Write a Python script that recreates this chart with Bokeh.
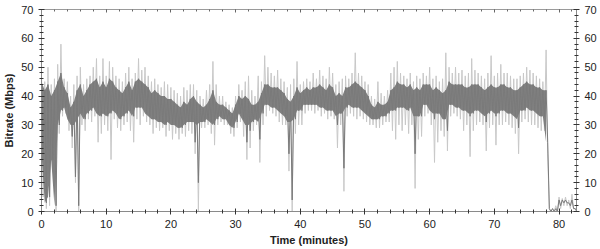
from bokeh.plotting import figure
from bokeh.models import Range1d, LinearAxis, SingleIntervalTicker
from bokeh.embed import file_html
from bokeh.resources import INLINE

# Time step of the sampled envelope (minutes)
step = 0.5

# Light-gray extremes (spikes) per half-minute: highs and lows (Mbps)
spike_hi = [
    48, 45, 50, 44, 46, 51, 58, 46, 45, 40,
    44, 47, 50, 44, 46, 47, 50, 53, 47, 53,
    47, 52, 50, 47, 46, 45, 48, 50, 46, 48,
    53, 49, 50, 47, 45, 46, 44, 43, 45, 44,
    43, 42, 41, 40, 43, 42, 44, 44, 42, 40,
    39, 42, 44, 52, 44, 40, 40, 38, 37, 36,
    40, 44, 42, 45, 47, 42, 40, 47, 45, 54,
    50, 48, 47, 49, 46, 45, 43, 44, 46, 52,
    44, 45, 46, 45, 48, 46, 49, 47, 46, 50,
    48, 44, 45, 46, 47, 46, 48, 55, 48, 47,
    45, 44, 40, 39, 45, 41, 40, 42, 48, 50,
    52, 48, 47, 46, 48, 45, 47, 46, 48, 47,
    50, 46, 47, 45, 46, 55, 50, 48, 50, 48,
    49, 47, 48, 53, 49, 48, 47, 46, 48, 54,
    47, 48, 51, 48, 48, 47, 46, 46, 47, 48,
    50, 49, 48, 47, 46, 45, 56, 1, 1, 2,
    5, 4.5, 5, 4, 6, 1,
]
spike_lo = [
    5, 1, 2, 16, 0, 27, 33, 34, 28, 22,
    10, 0, 30, 28, 32, 31, 33, 24, 27, 30,
    28, 18, 32, 29, 28, 30, 31, 28, 24, 32,
    30, 33, 31, 30, 27, 29, 28, 29, 26, 28,
    25, 27, 25, 27, 26, 28, 27, 20, 0, 29,
    29, 30, 27, 23, 30, 31, 30, 30, 27, 26,
    29, 31, 26, 18, 22, 28, 30, 17, 30, 33,
    35, 34, 33, 31, 30, 30, 14, 0, 27, 30,
    30, 34, 35, 35, 34, 35, 33, 34, 32, 33,
    32, 22, 30, 7, 33, 34, 33, 32, 33, 32,
    31, 30, 30, 29, 29, 30, 31, 31, 28, 25,
    30, 28, 30, 27, 30, 8, 25, 26, 33, 34,
    30, 17, 24, 28, 26, 21, 33, 34, 33, 32,
    28, 30, 19, 28, 30, 31, 30, 21, 29, 30,
    23, 30, 30, 31, 30, 29, 27, 20, 31, 32,
    31, 30, 30, 29, 28, 28, 20, 0, 0, 0,
    1, 2, 2, 1, 1, 0,
]

# Dark-gray line per half-minute: upper and lower swings (Mbps)
core_hi = [
    45, 42, 44, 40, 42, 45, 48, 43, 41, 36,
    38, 42, 44, 40, 42, 44, 45, 46, 43, 45,
    43, 46, 45, 43, 42, 41, 43, 45, 42, 45,
    46, 45, 44, 43, 41, 42, 41, 40, 40, 39,
    39, 38, 37, 36, 38, 37, 39, 40, 38, 37,
    36, 37, 39, 42, 38, 37, 37, 36, 35, 34,
    37, 40, 39, 40, 39, 37, 37, 38, 41, 44,
    44, 43, 43, 43, 42, 41, 39, 38, 40, 43,
    41, 42, 43, 42, 43, 43, 44, 43, 42, 44,
    43, 40, 41, 40, 43, 43, 44, 45, 44, 43,
    42, 40, 37, 36, 38, 37, 37, 38, 42, 43,
    45, 44, 44, 43, 44, 42, 43, 42, 44, 44,
    44, 42, 43, 42, 41, 42, 45, 44, 44, 44,
    44, 43, 43, 44, 44, 44, 43, 42, 43, 44,
    43, 43, 44, 44, 43, 43, 42, 42, 43, 44,
    45, 44, 44, 43, 43, 42, 42, 1, 1, 1,
    4, 4, 4, 3, 4, 1,
]
core_lo = [
    20, 3, 5, 18, 2, 30, 35, 36, 32, 26,
    12, 2, 34, 32, 34, 35, 36, 34, 33, 34,
    33, 34, 35, 34, 32, 33, 34, 35, 33, 36,
    36, 36, 34, 33, 32, 32, 31, 31, 30, 31,
    30, 30, 29, 29, 30, 31, 31, 24, 10, 31,
    31, 32, 31, 30, 32, 33, 32, 32, 30, 29,
    31, 34, 32, 24, 28, 31, 32, 25, 34, 37,
    37, 36, 36, 35, 34, 33, 20, 4, 32, 35,
    35, 37, 37, 37, 37, 37, 36, 36, 35, 35,
    35, 30, 34, 15, 36, 37, 36, 36, 36, 35,
    34, 33, 32, 32, 32, 33, 33, 34, 35, 35,
    36, 36, 36, 35, 36, 20, 33, 33, 37, 37,
    35, 32, 34, 34, 32, 28, 37, 37, 36, 36,
    35, 35, 33, 34, 35, 35, 34, 31, 34, 35,
    33, 34, 35, 35, 34, 34, 33, 29, 35, 35,
    36, 35, 35, 34, 33, 33, 24, 0, 0, 0,
    2, 3, 3, 2, 1, 0,
]
# Lower edge of the solid dense band (dips excluded), up to 78 min
band_lo = [
    20, 3, 5, 18, 2, 30, 35, 36, 32, 30,
    30, 32, 34, 32, 34, 35, 36, 34, 33, 34,
    33, 34, 35, 34, 32, 33, 34, 35, 33, 36,
    36, 36, 34, 33, 32, 32, 31, 31, 30, 31,
    30, 30, 29, 29, 30, 31, 31, 31, 30, 31,
    31, 32, 31, 30, 32, 33, 32, 32, 30, 29,
    31, 34, 32, 30, 30, 31, 32, 31, 34, 37,
    37, 36, 36, 35, 34, 33, 31, 31, 32, 35,
    35, 37, 37, 37, 37, 37, 36, 36, 35, 35,
    35, 33, 34, 34, 36, 37, 36, 36, 36, 35,
    34, 33, 32, 32, 32, 33, 33, 34, 35, 35,
    36, 36, 36, 35, 36, 33, 33, 33, 37, 37,
    35, 34, 34, 34, 32, 32, 37, 37, 36, 36,
    35, 35, 34, 34, 35, 35, 34, 33, 34, 35,
    34, 34, 35, 35, 34, 34, 33, 32, 35, 35,
    36, 35, 35, 34, 33, 33, 24,
]

x_ticks = [0, 10, 20, 30, 40, 50, 60, 70, 80]
y_ticks = [0, 10, 20, 30, 40, 50, 60, 70]

times = [i * step for i in range(len(core_hi))]

def zigzag(hi, lo):
    xs, ys = [], []
    for t, h, l in zip(times, hi, lo):
        xs += [t, t + step / 2]
        ys += [h, l]
    return xs, ys

FONT = "Liberation Sans"

p = figure(width=600, height=249, output_backend="svg", toolbar_location=None,
           x_range=Range1d(0, 82.7), y_range=Range1d(0, 70),
           min_border_left=41, min_border_right=24, min_border_top=9,
           min_border_bottom=38)
p.xgrid.visible = False
p.ygrid.visible = False
p.outline_line_color = "#9a9a9a"
p.background_fill_color = "white"
p.border_fill_color = "white"

# light spikes
lx, ly = zigzag(spike_hi, spike_lo)
p.line(lx, ly, line_color="#c8c8c8", line_width=1)
# dense dark band (main signal)
n = len(band_lo)
p.varea(x=times[:n], y1=band_lo, y2=core_hi[:n], fill_color="#808080")
dx, dy = zigzag(core_hi, core_lo)
p.line(dx, dy, line_color="#7a7a7a", line_width=1)

def style(ax):
    ax.axis_line_color = "#8a8a8a"
    ax.major_tick_line_color = "#333333"
    ax.minor_tick_line_color = "#333333"
    ax.major_tick_in = 3
    ax.major_tick_out = 3
    ax.minor_tick_in = 2
    ax.minor_tick_out = 2
    ax.major_label_text_font = FONT
    ax.major_label_text_font_size = "11px"
    ax.major_label_text_color = "#222222"
    ax.major_label_standoff = 5
    ax.axis_label_text_font = FONT
    ax.axis_label_text_font_size = "11px"
    ax.axis_label_text_font_style = "bold"
    ax.axis_label_text_color = "#222222"
    ax.axis_label_standoff = 3

p.xaxis.ticker = SingleIntervalTicker(interval=10, num_minor_ticks=5)
p.yaxis.ticker = SingleIntervalTicker(interval=10, num_minor_ticks=5)
p.xaxis.axis_label = "Time (minutes)"
p.yaxis.axis_label = "Bitrate (Mbps)"
style(p.xaxis[0])
style(p.yaxis[0])

right = LinearAxis(ticker=SingleIntervalTicker(interval=10, num_minor_ticks=5))
style(right)
p.add_layout(right, "right")

top = LinearAxis(ticker=SingleIntervalTicker(interval=10, num_minor_ticks=5))
style(top)
top.major_label_text_font_size = "1px"
top.major_label_text_color = None
top.axis_line_color = "#9a9a9a"
top.major_tick_out = 0
top.minor_tick_out = 0
top.major_tick_line_color = "#666666"
top.minor_tick_line_color = "#666666"
top.major_label_standoff = 0
p.add_layout(top, "above")

open("out.html", "w").write(file_html(p, INLINE))
